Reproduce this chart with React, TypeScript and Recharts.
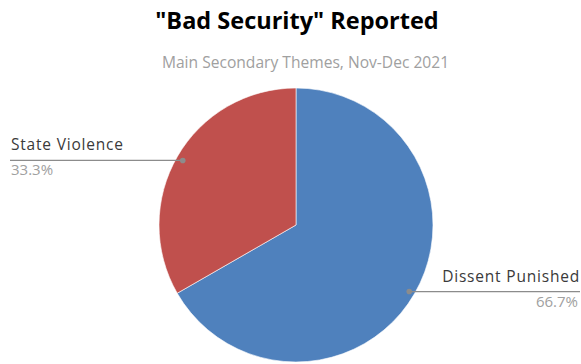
import React from "react";
import { PieChart, Pie, Cell } from "recharts";

const categories = ["Dissent Punished", "State Violence"];
const shares = [66.7, 33.3];
const colors = ["#4F81BD", "#C0504D"];

const data = categories.map((name, i) => ({ name, value: shares[i] }));

const RADIAN = Math.PI / 180;
const FONT = "'Open Sans', 'Liberation Sans', sans-serif";

const renderLabel = (props: any) => {
  const { cx, cy, midAngle, outerRadius, name, value } = props;
  const r = outerRadius * 0.955;
  const x = cx + r * Math.cos(-midAngle * RADIAN);
  const y = cy + r * Math.sin(-midAngle * RADIAN) + 1;
  const left = Math.cos(-midAngle * RADIAN) < 0;
  const endX = left ? 10 : 580;
  const tx = left ? 11 : 580;
  const anchor = left ? "start" : "end";
  return (
    <g>
      <line x1={x} y1={y} x2={endX} y2={y} stroke="#8c8c8c" strokeWidth={1.2} />
      <circle cx={x} cy={y} r={2.8} fill="#8c8c8c" />
      <text x={tx} y={y - 10} textAnchor={anchor} fill="#3a3a3a" fontSize={15.5} fontFamily={FONT} letterSpacing={0.8}>
        {name}
      </text>
      <text x={tx - (left ? 0 : 2)} y={y + 15} textAnchor={anchor} fill="#a0a0a0" fontSize={15} fontFamily={FONT}>
        {value.toFixed(1)}%
      </text>
    </g>
  );
};

export default function App() {
  return (
    <div style={{ position: "absolute", left: 0, top: 0, width: 581, height: 364, background: "#fff", overflow: "hidden" }}>
      <div style={{ position: "absolute", left: 0, width: 594, top: 4, textAlign: "center", fontFamily: FONT, fontWeight: 700, fontSize: 23.5, color: "#000", lineHeight: "32px" }}>
        "Bad Security" Reported
      </div>
      <div style={{ position: "absolute", left: 0, width: 611, top: 51, textAlign: "center", fontFamily: FONT, fontSize: 15.6, color: "#a0a0a0", lineHeight: "22px" }}>
        Main Secondary Themes, Nov-Dec 2021
      </div>
      <PieChart width={581} height={364} margin={{ top: 0, right: 0, bottom: 0, left: 0 }} style={{ position: "absolute", left: 0, top: 0 }}>
        <Pie
          data={data}
          dataKey="value"
          nameKey="name"
          cx={296}
          cy={225}
          outerRadius={137}
          startAngle={90}
          endAngle={-270}
          stroke="#ffffff"
          strokeWidth={0.6}
          label={renderLabel}
          labelLine={false}
          isAnimationActive={false}
        >
          {data.map((d, i) => (
            <Cell key={d.name} fill={colors[i]} />
          ))}
        </Pie>
      </PieChart>
    </div>
  );
}
